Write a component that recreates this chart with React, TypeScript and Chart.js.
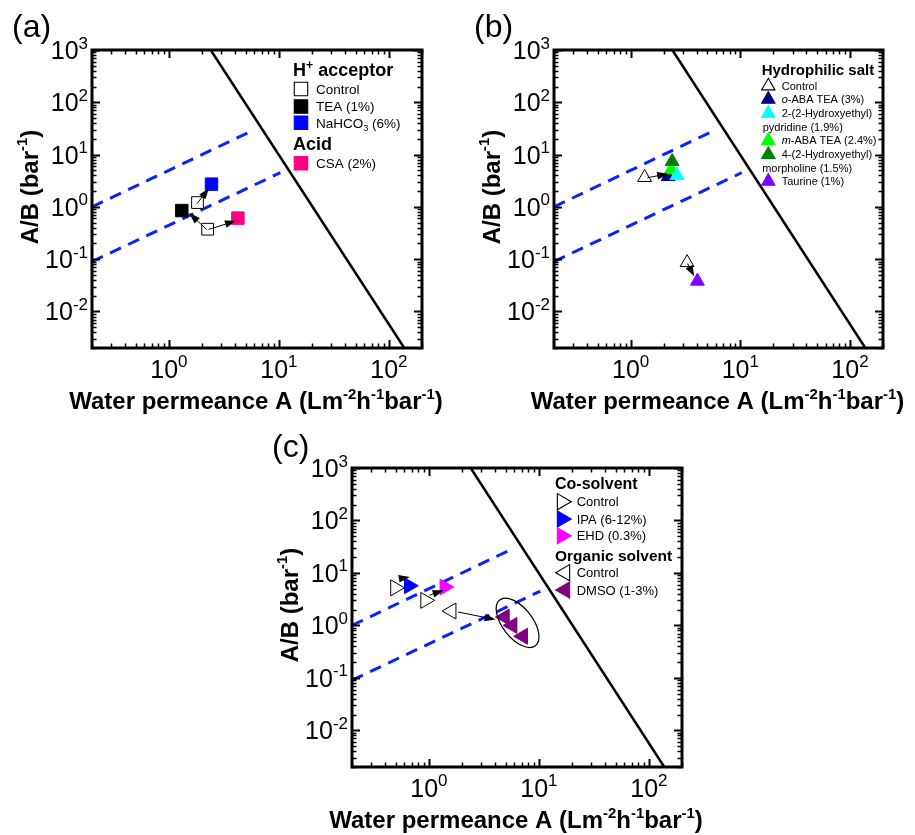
import React, { useEffect, useRef } from 'react';
import { Chart, registerables } from 'chart.js';

Chart.register(...registerables);

// ---------- axes ----------
const X_MIN = 0.2;
const X_MAX = 200;
const Y_MIN = 0.002;
const Y_MAX = 1000;
const X_TICKS = [1, 10, 100];
const X_TICK_EXP = ['0', '1', '2'];
const Y_TICKS = [0.01, 0.1, 1, 10, 100, 1000];
const Y_TICK_EXP = ['-2', '-1', '0', '1', '2', '3'];

// ---------- reference lines ----------
const BOUND_X = [2.4, 138];
const BOUND_Y = [1000, 0.002];
const UPPER_DASH_X = [0.2, 5.8];
const UPPER_DASH_Y = [1, 29];
const LOWER_DASH_X = [0.2, 10.3];
const LOWER_DASH_Y = [0.09, 4.5];

// ---------- (a) H+ acceptor / acid ----------
const A_CONTROL_X = [1.82, 2.25];
const A_CONTROL_Y = [1.21, 0.374];
const A_TEA_X = [1.31];
const A_TEA_Y = [0.85];
const A_NAHCO3_X = [2.44];
const A_NAHCO3_Y = [2.72];
const A_CSA_X = [4.24];
const A_CSA_Y = [0.61];
const A_ARROW_FROM_X = [1.8, 2.2, 2.3];
const A_ARROW_FROM_Y = [1.15, 0.37, 0.37];
const A_ARROW_TO_X = [2.32, 1.53, 4.07];
const A_ARROW_TO_Y = [2.28, 0.76, 0.54];

// ---------- (b) hydrophilic salt ----------
const B_CONTROL_X = [1.34, 3.27];
const B_CONTROL_Y = [3.65, 0.086];
const B_OABA_X = [2.2];
const B_OABA_Y = [3.8];
const B_HEP_X = [2.65];
const B_HEP_Y = [4.0];
const B_MABA_X = [2.34];
const B_MABA_Y = [5.1];
const B_HEM_X = [2.39];
const B_HEM_Y = [7.4];
const B_TAURINE_X = [4.06];
const B_TAURINE_Y = [0.038];
const B_ARROW_FROM_X = [1.42, 3.3];
const B_ARROW_FROM_Y = [3.6, 0.082];
const B_ARROW_TO_X = [2.2, 3.8];
const B_ARROW_TO_Y = [4.3, 0.047];

// ---------- (c) co-solvent / organic solvent ----------
const C_CO_CONTROL_X = [0.495, 0.93];
const C_CO_CONTROL_Y = [5.2, 3.0];
const C_IPA_X = [0.66];
const C_IPA_Y = [5.7];
const C_EHD_X = [1.39];
const C_EHD_Y = [5.4];
const C_ORG_CONTROL_X = [1.6];
const C_ORG_CONTROL_Y = [1.88];
const C_DMSO_X = [4.88, 5.73, 7.16];
const C_DMSO_Y = [1.44, 1.0, 0.62];
const C_ARROW_FROM_X = [0.56, 1.01, 1.84];
const C_ARROW_FROM_Y = [7.85, 3.76, 1.8];
const C_ARROW_TO_X = [0.67, 1.36, 4.04];
const C_ARROW_TO_Y = [8.4, 4.68, 1.29];
const C_ELLIPSE_X = [6.4];
const C_ELLIPSE_Y = [1.12];

// ---------- colours ----------
const DASH_BLUE = '#0a22ff';
const COL_BLUE = '#0000ff';
const COL_PINK = '#ff0080';
const COL_NAVY = '#000080';
const COL_CYAN = '#00ffff';
const COL_LIME = '#00ff00';
const COL_GREEN = '#008000';
const COL_VIOLET = '#8000ff';
const COL_MAGENTA = '#ff00ff';
const COL_PURPLE = '#800080';

const FONT = '"Liberation Sans", Arial, Helvetica, sans-serif';

type Seg = { t: string; k?: 'sup' | 'sub'; i?: boolean };

function fontStr(size: number, bold: boolean, italic?: boolean) {
  return `${italic ? 'italic ' : ''}${bold ? 'bold ' : ''}${size}px ${FONT}`;
}

function drawSegs(
  ctx: CanvasRenderingContext2D,
  x: number,
  baseline: number,
  segs: Seg[],
  size: number,
  bold: boolean,
  align: 'left' | 'center' | 'right',
  supScale = 0.65,
  rise = 0.42
) {
  let w = 0;
  for (const s of segs) {
    ctx.font = fontStr(s.k ? size * supScale : size, bold, s.i);
    w += ctx.measureText(s.t).width;
  }
  let cx = align === 'center' ? x - w / 2 : align === 'right' ? x - w : x;
  ctx.textAlign = 'left';
  ctx.textBaseline = 'alphabetic';
  ctx.fillStyle = '#000';
  for (const s of segs) {
    ctx.font = fontStr(s.k ? size * supScale : size, bold, s.i);
    const dy = s.k === 'sup' ? -size * rise : s.k === 'sub' ? size * 0.22 : 0;
    ctx.fillText(s.t, cx, baseline + dy);
    cx += ctx.measureText(s.t).width;
  }
}

function drawMarker(
  ctx: CanvasRenderingContext2D,
  style: string,
  x: number,
  y: number,
  r: number,
  fill: string,
  stroke: string,
  rotDeg: number,
  lw: number
) {
  ctx.save();
  ctx.beginPath();
  if (style === 'rect') {
    const s = r * Math.SQRT1_2;
    ctx.rect(x - s, y - s, 2 * s, 2 * s);
  } else {
    let rad = (rotDeg * Math.PI) / 180;
    for (let k = 0; k < 3; k++) {
      const px = x + Math.sin(rad) * r;
      const py = y - Math.cos(rad) * r;
      if (k === 0) ctx.moveTo(px, py);
      else ctx.lineTo(px, py);
      rad += (2 * Math.PI) / 3;
    }
    ctx.closePath();
  }
  ctx.fillStyle = fill;
  ctx.fill();
  ctx.lineWidth = lw;
  ctx.strokeStyle = stroke;
  ctx.stroke();
  ctx.restore();
}

function drawArrow(ctx: CanvasRenderingContext2D, x1: number, y1: number, x2: number, y2: number) {
  const ang = Math.atan2(y2 - y1, x2 - x1);
  const L = 11;
  const W = 3.8;
  const c = Math.cos(ang);
  const s = Math.sin(ang);
  ctx.save();
  ctx.strokeStyle = '#000';
  ctx.fillStyle = '#000';
  ctx.lineWidth = 1;
  ctx.beginPath();
  ctx.moveTo(x1, y1);
  ctx.lineTo(x2 - L * 0.8 * c, y2 - L * 0.8 * s);
  ctx.stroke();
  ctx.beginPath();
  ctx.moveTo(x2, y2);
  ctx.lineTo(x2 - L * c + W * s, y2 - L * s - W * c);
  ctx.lineTo(x2 - L * c - W * s, y2 - L * s + W * c);
  ctx.closePath();
  ctx.fill();
  ctx.restore();
}

const pts = (xs: number[], ys: number[]) => xs.map((x, i) => ({ x, y: ys[i] }));

const lineDs = (xs: number[], ys: number[], color: string, width: number, dash: number[] = []) => ({
  data: pts(xs, ys),
  showLine: true,
  borderColor: color,
  backgroundColor: color,
  borderWidth: width,
  borderDash: dash,
  borderCapStyle: 'butt',
  pointRadius: 0,
  pointHoverRadius: 0,
  fill: false,
});

const markerDs = (
  xs: number[],
  ys: number[],
  style: string,
  r: number,
  fill: string,
  stroke: string,
  rot = 0,
  bw = 1
) => ({
  data: pts(xs, ys),
  showLine: false,
  pointStyle: style,
  pointRadius: r,
  pointHoverRadius: r,
  pointRotation: rot,
  backgroundColor: fill,
  borderColor: stroke,
  borderWidth: bw,
  pointBorderWidth: bw,
});

type LegendRow = {
  x: number;
  cy: number;
  size: number;
  bold?: boolean;
  segs: Seg[];
  marker?: { mx: number; style: string; r: number; fill: string; stroke: string; rot: number };
};

type Panel = {
  label: string;
  left: number;
  top: number;
  w: number;
  h: number;
  padding: { left: number; top: number; right: number; bottom: number };
  datasets: any[];
  arrows: { fx: number[]; fy: number[]; tx: number[]; ty: number[] };
  legend: LegendRow[];
  ellipse?: { x: number[]; y: number[]; a: number; b: number; rot: number };
};

const refLines = () => [
  lineDs(BOUND_X, BOUND_Y, '#000', 2.5),
  lineDs(UPPER_DASH_X, UPPER_DASH_Y, DASH_BLUE, 3, [12, 8]),
  lineDs(LOWER_DASH_X, LOWER_DASH_Y, DASH_BLUE, 3, [12, 8]),
];

const PANEL_A: Panel = {
  label: '(a)',
  left: 0,
  top: 0,
  w: 457,
  h: 420,
  padding: { left: 92, top: 50, right: 35, bottom: 72 },
  datasets: [
    ...refLines(),
    markerDs(A_CONTROL_X, A_CONTROL_Y, 'rect', 8.3, '#fff', '#000', 0, 1),
    markerDs(A_TEA_X, A_TEA_Y, 'rect', 8.8, '#000', '#000'),
    markerDs(A_NAHCO3_X, A_NAHCO3_Y, 'rect', 8.8, COL_BLUE, COL_BLUE),
    markerDs(A_CSA_X, A_CSA_Y, 'rect', 8.8, COL_PINK, COL_PINK),
  ],
  arrows: { fx: A_ARROW_FROM_X, fy: A_ARROW_FROM_Y, tx: A_ARROW_TO_X, ty: A_ARROW_TO_Y },
  legend: [
    { x: 293, cy: 70, size: 18, bold: true, segs: [{ t: 'H' }, { t: '+', k: 'sup' }, { t: ' acceptor' }] },
    { x: 316, cy: 89, size: 13.5, segs: [{ t: 'Control' }], marker: { mx: 301, style: 'rect', r: 9.5, fill: '#fff', stroke: '#000', rot: 0 } },
    { x: 316, cy: 106.5, size: 13.5, segs: [{ t: 'TEA (1%)' }], marker: { mx: 301, style: 'rect', r: 9.5, fill: '#000', stroke: '#000', rot: 0 } },
    { x: 316, cy: 122.7, size: 13.5, segs: [{ t: 'NaHCO' }, { t: '3', k: 'sub' }, { t: ' (6%)' }], marker: { mx: 301, style: 'rect', r: 9.5, fill: COL_BLUE, stroke: COL_BLUE, rot: 0 } },
    { x: 293, cy: 144, size: 18, bold: true, segs: [{ t: 'Acid' }] },
    { x: 316, cy: 163.3, size: 13.5, segs: [{ t: 'CSA (2%)' }], marker: { mx: 301, style: 'rect', r: 9.5, fill: COL_PINK, stroke: COL_PINK, rot: 0 } },
  ],
};

const PANEL_B: Panel = {
  label: '(b)',
  left: 457,
  top: 0,
  w: 458,
  h: 420,
  padding: { left: 97, top: 50, right: 32, bottom: 72 },
  datasets: [
    ...refLines(),
    markerDs(B_CONTROL_X, B_CONTROL_Y, 'triangle', 8, '#fff', '#000', 0, 1),
    markerDs(B_OABA_X, B_OABA_Y, 'triangle', 8, COL_NAVY, COL_NAVY),
    markerDs(B_MABA_X, B_MABA_Y, 'triangle', 8, COL_LIME, COL_LIME),
    markerDs(B_HEP_X, B_HEP_Y, 'triangle', 8, COL_CYAN, COL_CYAN),
    markerDs(B_HEM_X, B_HEM_Y, 'triangle', 8, COL_GREEN, COL_GREEN),
    markerDs(B_TAURINE_X, B_TAURINE_Y, 'triangle', 8, COL_VIOLET, COL_VIOLET),
  ],
  arrows: { fx: B_ARROW_FROM_X, fy: B_ARROW_FROM_Y, tx: B_ARROW_TO_X, ty: B_ARROW_TO_Y },
  legend: [
    { x: 304.7, cy: 70, size: 15, bold: true, segs: [{ t: 'Hydrophilic salt' }] },
    { x: 324.7, cy: 86, size: 11, segs: [{ t: 'Control' }], marker: { mx: 311.3, style: 'triangle', r: 7.7, fill: '#fff', stroke: '#000', rot: 0 } },
    { x: 324.7, cy: 99.3, size: 11, segs: [{ t: 'o', i: true }, { t: '-ABA TEA (3%)' }], marker: { mx: 311.3, style: 'triangle', r: 7.7, fill: COL_NAVY, stroke: COL_NAVY, rot: 0 } },
    { x: 324.7, cy: 113.3, size: 11, segs: [{ t: '2-(2-Hydroxyethyl)' }], marker: { mx: 311.3, style: 'triangle', r: 7.7, fill: COL_CYAN, stroke: COL_CYAN, rot: 0 } },
    { x: 305.7, cy: 127.3, size: 11, segs: [{ t: 'pydridine (1.9%)' }] },
    { x: 324.7, cy: 140.5, size: 11, segs: [{ t: 'm', i: true }, { t: '-ABA TEA (2.4%)' }], marker: { mx: 311.3, style: 'triangle', r: 7.7, fill: COL_LIME, stroke: COL_LIME, rot: 0 } },
    { x: 324.7, cy: 154.5, size: 11, segs: [{ t: '4-(2-Hydroxyethyl)' }], marker: { mx: 311.3, style: 'triangle', r: 7.7, fill: COL_GREEN, stroke: COL_GREEN, rot: 0 } },
    { x: 305.2, cy: 168.3, size: 11, segs: [{ t: 'morpholine (1.5%)' }] },
    { x: 324.7, cy: 181.3, size: 11, segs: [{ t: 'Taurine (1%)' }], marker: { mx: 311.3, style: 'triangle', r: 7.7, fill: COL_VIOLET, stroke: COL_VIOLET, rot: 0 } },
  ],
};

const PANEL_C: Panel = {
  label: '(c)',
  left: 200,
  top: 420,
  w: 520,
  h: 415,
  padding: { left: 152, top: 48, right: 38, bottom: 68 },
  datasets: [
    ...refLines(),
    markerDs(C_CO_CONTROL_X, C_CO_CONTROL_Y, 'triangle', 9.2, '#fff', '#000', 90, 1),
    markerDs(C_IPA_X, C_IPA_Y, 'triangle', 9.2, COL_BLUE, COL_BLUE, 90),
    markerDs(C_EHD_X, C_EHD_Y, 'triangle', 9.2, COL_MAGENTA, COL_MAGENTA, 90),
    markerDs(C_ORG_CONTROL_X, C_ORG_CONTROL_Y, 'triangle', 9.2, '#fff', '#000', 270, 1),
    markerDs(C_DMSO_X, C_DMSO_Y, 'triangle', 9.2, COL_PURPLE, COL_PURPLE, 270),
  ],
  arrows: { fx: C_ARROW_FROM_X, fy: C_ARROW_FROM_Y, tx: C_ARROW_TO_X, ty: C_ARROW_TO_Y },
  ellipse: { x: C_ELLIPSE_X, y: C_ELLIPSE_Y, a: 29, b: 15, rot: 52 },
  legend: [
    { x: 355, cy: 63.3, size: 16, bold: true, segs: [{ t: 'Co-solvent' }] },
    { x: 376.7, cy: 81.7, size: 13, segs: [{ t: 'Control' }], marker: { mx: 362, style: 'triangle', r: 9.3, fill: '#fff', stroke: '#000', rot: 90 } },
    { x: 376.7, cy: 99, size: 13, segs: [{ t: 'IPA (6-12%)' }], marker: { mx: 362, style: 'triangle', r: 9.3, fill: COL_BLUE, stroke: COL_BLUE, rot: 90 } },
    { x: 376.7, cy: 115.7, size: 13, segs: [{ t: 'EHD (0.3%)' }], marker: { mx: 362, style: 'triangle', r: 9.3, fill: COL_MAGENTA, stroke: COL_MAGENTA, rot: 90 } },
    { x: 355, cy: 135, size: 15.5, bold: true, segs: [{ t: 'Organic solvent' }] },
    { x: 376.7, cy: 152.7, size: 13, segs: [{ t: 'Control' }], marker: { mx: 365, style: 'triangle', r: 9.3, fill: '#fff', stroke: '#000', rot: 270 } },
    { x: 376.7, cy: 170, size: 13, segs: [{ t: 'DMSO (1-3%)' }], marker: { mx: 365, style: 'triangle', r: 9.3, fill: COL_PURPLE, stroke: COL_PURPLE, rot: 270 } },
  ],
};

function makePlugin(panel: Panel) {
  return {
    id: 'panelDecor',
    afterDatasetsDraw(chart: any) {
      const ctx: CanvasRenderingContext2D = chart.ctx;
      const xs = chart.scales.x;
      const ys = chart.scales.y;
      const ar = panel.arrows;
      for (let i = 0; i < ar.fx.length; i++) {
        drawArrow(
          ctx,
          xs.getPixelForValue(ar.fx[i]),
          ys.getPixelForValue(ar.fy[i]),
          xs.getPixelForValue(ar.tx[i]),
          ys.getPixelForValue(ar.ty[i])
        );
      }
      if (panel.ellipse) {
        const e = panel.ellipse;
        ctx.save();
        ctx.beginPath();
        ctx.ellipse(
          xs.getPixelForValue(e.x[0]),
          ys.getPixelForValue(e.y[0]),
          e.a,
          e.b,
          (e.rot * Math.PI) / 180,
          0,
          Math.PI * 2
        );
        ctx.strokeStyle = '#000';
        ctx.lineWidth = 1.2;
        ctx.stroke();
        ctx.restore();
      }
    },
    afterDraw(chart: any) {
      const ctx: CanvasRenderingContext2D = chart.ctx;
      const xs = chart.scales.x;
      const ys = chart.scales.y;
      const { left, right, top, bottom } = chart.chartArea;
      ctx.save();
      ctx.strokeStyle = '#000';
      const majorLen = 8;
      const minorLen = 4.5;
      const xDecLo = Math.floor(Math.log10(X_MIN));
      const xDecHi = Math.ceil(Math.log10(X_MAX));
      for (let d = xDecLo; d <= xDecHi; d++) {
        for (let m = 1; m <= 9; m++) {
          const v = m * Math.pow(10, d);
          if (v < X_MIN * 0.999 || v > X_MAX * 1.001) continue;
          const px = Math.round(xs.getPixelForValue(v)) + 0.5;
          const len = m === 1 ? majorLen : minorLen;
          ctx.lineWidth = m === 1 ? 2 : 1.5;
          ctx.beginPath();
          ctx.moveTo(px, bottom);
          ctx.lineTo(px, bottom - len);
          ctx.moveTo(px, top);
          ctx.lineTo(px, top + len);
          ctx.stroke();
        }
      }
      const yDecLo = Math.floor(Math.log10(Y_MIN));
      const yDecHi = Math.ceil(Math.log10(Y_MAX));
      for (let d = yDecLo; d <= yDecHi; d++) {
        for (let m = 1; m <= 9; m++) {
          const v = m * Math.pow(10, d);
          if (v < Y_MIN * 0.999 || v > Y_MAX * 1.001) continue;
          const py = Math.round(ys.getPixelForValue(v)) + 0.5;
          const len = m === 1 ? majorLen : minorLen;
          ctx.lineWidth = m === 1 ? 2 : 1.5;
          ctx.beginPath();
          ctx.moveTo(left, py);
          ctx.lineTo(left + len, py);
          ctx.moveTo(right, py);
          ctx.lineTo(right - len, py);
          ctx.stroke();
        }
      }
      ctx.lineWidth = 3;
      ctx.strokeRect(left, top, right - left, bottom - top);

      X_TICKS.forEach((v, i) => {
        const px = xs.getPixelForValue(v);
        drawSegs(ctx, px, bottom + 30, [{ t: '10' }, { t: X_TICK_EXP[i], k: 'sup' }], 25, false, 'center', 0.68, 0.44);
      });
      Y_TICKS.forEach((v, i) => {
        const py = ys.getPixelForValue(v);
        drawSegs(ctx, left - 4, py + 9, [{ t: '10' }, { t: Y_TICK_EXP[i], k: 'sup' }], 25, false, 'right', 0.68, 0.42);
      });

      drawSegs(
        ctx,
        (left + right) / 2 - 1,
        bottom + 61,
        [
          { t: 'Water permeance A (Lm' },
          { t: '-2', k: 'sup' },
          { t: 'h' },
          { t: '-1', k: 'sup' },
          { t: 'bar' },
          { t: '-1', k: 'sup' },
          { t: ')' },
        ],
        24,
        true,
        'center',
        0.62,
        0.42
      );
      ctx.save();
      ctx.translate(left - 63 + 8.5, top + 137);
      ctx.rotate(-Math.PI / 2);
      drawSegs(ctx, 0, 0, [{ t: 'A/B (bar' }, { t: '-1', k: 'sup' }, { t: ')' }], 24, true, 'center', 0.62, 0.42);
      ctx.restore();

      drawSegs(ctx, left - 80, 37, [{ t: panel.label }], 32, false, 'left');

      for (const row of panel.legend) {
        if (row.marker) {
          const m = row.marker;
          drawMarker(ctx, m.style, m.mx, row.cy, m.r, m.fill, m.stroke, m.rot, 1.1);
        }
        drawSegs(ctx, row.x, row.cy + row.size * 0.36, row.segs, row.size, !!row.bold, 'left', 0.68, 0.42);
      }
      ctx.restore();
    },
  };
}

function PanelChart({ panel }: { panel: Panel }) {
  const ref = useRef<HTMLCanvasElement>(null);
  useEffect(() => {
    if (!ref.current) return;
    const chart = new Chart(ref.current, {
      type: 'scatter',
      data: { datasets: [...panel.datasets].reverse() },
      options: {
        responsive: false,
        maintainAspectRatio: false,
        animation: false,
        devicePixelRatio: 1,
        events: [],
        layout: { padding: panel.padding },
        plugins: {
          legend: { display: false },
          tooltip: { enabled: false },
          title: { display: false },
        },
        scales: {
          x: { type: 'logarithmic', min: X_MIN, max: X_MAX, display: false, bounds: 'data' },
          y: { type: 'logarithmic', min: Y_MIN, max: Y_MAX, display: false, bounds: 'data' },
        },
      } as any,
      plugins: [makePlugin(panel)],
    } as any);
    return () => chart.destroy();
  }, [panel]);
  return (
    <canvas
      ref={ref}
      width={panel.w}
      height={panel.h}
      style={{ position: 'absolute', left: panel.left, top: panel.top, width: panel.w, height: panel.h }}
    />
  );
}

export default function App() {
  return (
    <div style={{ position: 'absolute', left: 0, top: 0, width: 915, height: 835, background: '#fff' }}>
      <PanelChart panel={PANEL_A} />
      <PanelChart panel={PANEL_B} />
      <PanelChart panel={PANEL_C} />
    </div>
  );
}
